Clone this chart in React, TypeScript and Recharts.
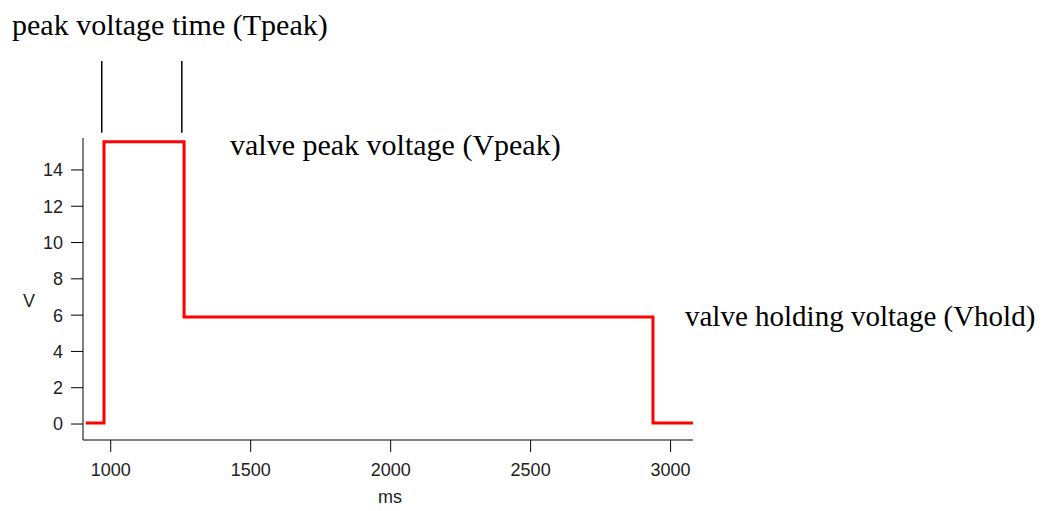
import { Line, LineChart, ReferenceLine, XAxis, YAxis } from "recharts";

// valve drive waveform (ms, V)
const times = [911, 976, 1262, 2937, 3080];
const volts = [0.05, 15.55, 5.9, 0.05, 0.05];
const xTicks = [1000, 1500, 2000, 2500, 3000];
const yTicks = [0, 2, 4, 6, 8, 10, 12, 14];
// Tpeak marker lines above the pulse
const markerTimes = [968, 1254];
const markerRange = [16.05, 20];

const data = times.map((t, i) => ({ t, v: volts[i] }));

const tickFont = { fill: "#222", fontSize: 18, fontFamily: "'Liberation Sans', Arial, sans-serif" };
const serif = "'Liberation Serif', 'Times New Roman', serif";

export default function App() {
  return (
    <div style={{ position: "absolute", left: 0, top: 0, width: 1044, height: 511, background: "#fff" }}>
      <LineChart width={1044} height={511} data={data} margin={{ top: 138, right: 351, bottom: 31, left: 0 }}>
        <XAxis
          dataKey="t"
          type="number"
          domain={[901, 3080]}
          ticks={xTicks}
          allowDataOverflow
          height={40}
          tickSize={12}
          tickMargin={11}
          stroke="#000"
          tick={tickFont}
        />
        <YAxis
          type="number"
          domain={[-0.88, 15.76]}
          ticks={yTicks}
          allowDataOverflow
          width={83}
          tickSize={12}
          tickMargin={8}
          stroke="#000"
          tick={tickFont}
        />
        {markerTimes.map((m) => (
          <ReferenceLine
            key={m}
            segment={[{ x: m, y: markerRange[0] }, { x: m, y: markerRange[1] }]}
            stroke="#000"
            strokeWidth={1.5}
            ifOverflow="visible"
          />
        ))}
        <Line
          type="stepAfter"
          dataKey="v"
          stroke="#ff0000"
          strokeWidth={3}
          dot={false}
          isAnimationActive={false}
        />
      </LineChart>
      <svg width={1044} height={511} style={{ position: "absolute", left: 0, top: 0, pointerEvents: "none" }}>
        <text x={12} y={35} fontFamily={serif} fontSize={30} fill="#000">peak voltage time (Tpeak)</text>
        <text x={230} y={155} fontFamily={serif} fontSize={30} fill="#000">valve peak voltage (Vpeak)</text>
        <text x={685} y={326} fontFamily={serif} fontSize={29} fill="#000">valve holding voltage (Vhold)</text>
        <text x={29} y={302} textAnchor="middle" dominantBaseline="middle" {...tickFont}>V</text>
        <text x={390} y={498} textAnchor="middle" dominantBaseline="middle" {...tickFont}>ms</text>
      </svg>
    </div>
  );
}
